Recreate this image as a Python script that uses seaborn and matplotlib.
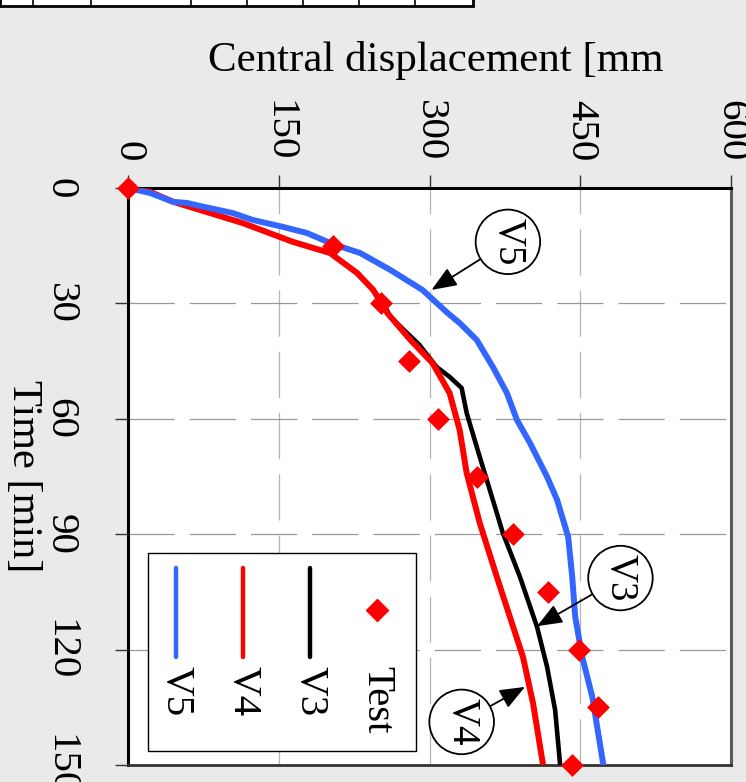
import matplotlib
matplotlib.use('Agg')
import matplotlib.pyplot as plt
import seaborn as sns
from matplotlib.patches import Rectangle
from matplotlib.lines import Line2D

# test results
test_time = [0, 15, 30, 45, 60, 75, 90, 105, 120, 135, 150]
test_disp = [0, 204, 252, 280, 308, 347, 383, 418, 449, 468, 442]

# simulations V5 / V4 / V3 (time [min], central displacement [mm])
v5_time = [0, 1.3, 3.6, 3.9, 4.7, 6.5, 8.3, 10.1, 11.7, 14.6, 16.9, 21.3, 26.5, 32.5, 35.1,
           39.5, 46.5, 53.3, 60.3, 66.3, 75.1, 81.1, 90.7, 101.1, 111.5, 121.9, 132.3, 150]
v5_disp = [0, 22, 45, 59, 72, 104, 124, 154, 178, 204, 231, 261, 293, 318, 330,
           347, 363, 377, 387, 400, 417, 427, 438, 442, 445, 452, 462, 473]

v4_time = [0, 1.0, 3.6, 4.7, 9.1, 14.0, 16.9, 22.1, 26.5, 32.5, 39.5, 45.5, 53.3, 62.9,
           74.1, 87.1, 101.1, 111.5, 121.9, 133.9, 150]
v4_disp = [0, 22, 45, 59, 114, 164, 201, 228, 244, 258, 281, 303, 320, 330,
           337, 350, 367, 380, 393, 403, 413]

v3_time = [0, 1.0, 3.6, 4.7, 9.1, 14.0, 16.9, 22.1, 26.5, 29.9, 33.5, 40.8, 46.5, 49.1,
           52.0, 58.5, 67.3, 78.5, 89.7, 101.1, 114.1, 124.5, 135.7, 150]
v3_disp = [0, 22, 45, 59, 114, 164, 201, 228, 244, 254, 261, 290, 307, 320,
           332, 337, 347, 360, 373, 390, 407, 417, 425, 430]

disp_ticks = [0, 150, 300, 450, 600]
time_ticks = [0, 30, 60, 90, 120, 150]

BLUE = '#3366ff'
RED = '#ff0000'
BG = '#eaeaea'

sns.set_style('white')
plt.rcParams['font.family'] = ['Liberation Serif', 'DejaVu Serif']
plt.rcParams['text.color'] = 'black'
plt.rcParams['xtick.color'] = 'black'
plt.rcParams['ytick.color'] = 'black'

fig = plt.figure(figsize=(7.46, 7.82), dpi=100, facecolor=BG)
ax = fig.add_axes([128 / 746, 1 - 765 / 782, 603 / 746, 577 / 782])
ax.set_facecolor('white')

# chart is shown turned a quarter turn: displacement across, time downwards
sns.lineplot(x=v3_disp, y=v3_time, orient='y', estimator=None, color='black',
             lw=3.3, ax=ax, zorder=3)
sns.lineplot(x=v4_disp, y=v4_time, orient='y', estimator=None, color=RED,
             lw=4.3, ax=ax, zorder=4)
sns.lineplot(x=v5_disp, y=v5_time, orient='y', estimator=None, color=BLUE,
             lw=4.3, ax=ax, zorder=5)
sns.scatterplot(x=test_disp, y=test_time, marker='D', s=135, color=RED,
                linewidth=0, ax=ax, zorder=6, clip_on=False)

ax.set_xlim(0, 600)
ax.set_ylim(150, 0)
ax.set_xticks(disp_ticks)
ax.set_yticks(time_ticks)
ax.set_xlabel('')
ax.set_ylabel('')

ax.xaxis.grid(True, color='#b5b5b5', lw=0.9, ls=(0, (37, 12)))
ax.yaxis.grid(True, color='#999999', lw=0.9, ls=(0, (37, 12)))
ax.set_axisbelow(True)

ax.xaxis.tick_top()
ax.tick_params(axis='x', top=True, bottom=False, labeltop=True, labelbottom=False,
               direction='out', length=9.5, width=1, color='#333333',
               labelrotation=-90, labelsize=29.5, labelcolor='black', pad=10)
ax.tick_params(axis='y', left=True, direction='out', length=9.5, width=1,
               color='#333333', labelrotation=-90, labelsize=29.5,
               labelcolor='black', pad=26)
for lab in ax.get_yticklabels():
    lab.set_va('center')

for side in ['top', 'left']:
    ax.spines[side].set_color('black')
    ax.spines[side].set_linewidth(2.2)
ax.spines['right'].set_color('#5a5a5a')
ax.spines['right'].set_linewidth(2.2)
ax.spines['bottom'].set_color('#333333')
ax.spines['bottom'].set_linewidth(2.0)

# call-outs
arrow = dict(arrowstyle='-|>,head_length=0.55,head_width=0.22', color='black',
             lw=1.3, shrinkA=0, shrinkB=0)
circle = dict(boxstyle='circle,pad=0.22', fc='white', ec='black', lw=1.3)
for name, tip, centre in [('V5', (302, 26.5), (378, 14.0)),
                          ('V3', (407, 113.9), (490, 101.4)),
                          ('V4', (395, 129.7), (332, 138.8))]:
    ax.annotate(name, xy=tip, xytext=centre, rotation=-90, fontsize=28,
                ha='center', va='center', bbox=circle, arrowprops=arrow, zorder=8)

# legend, drawn turned like the chart
ax.add_patch(Rectangle((0.033, 0.024), 0.445, 0.343, transform=ax.transAxes,
                       fc='white', ec='black', lw=1.0, zorder=9))
entries = [('V5', BLUE, 0.0796), ('V4', RED, 0.1907), ('V3', 'black', 0.3018)]
for name, col, xp in entries:
    ax.add_line(Line2D([xp, xp], [0.341, 0.187], transform=ax.transAxes,
                       color=col, lw=3.2, solid_capstyle='round', zorder=10))
    ax.text(xp, 0.172, name, transform=ax.transAxes, rotation=-90, fontsize=29.5,
            ha='center', va='top', zorder=10)
ax.add_line(Line2D([0.413], [0.269], transform=ax.transAxes, marker='D', ms=11,
                   color=RED, lw=0, zorder=10))
ax.text(0.413, 0.172, 'Test', transform=ax.transAxes, rotation=-90, fontsize=29.5,
        ha='center', va='top', zorder=10)

# axis titles (the displacement one is cut at the page edge in the source)
fig.text(208 / 746, 1 - 60 / 782, 'Central displacement [mm', fontsize=31,
         ha='left', va='center')
fig.text(23 / 746, 1 - 476 / 782, 'Time [min]', fontsize=30.5, rotation=-90,
         ha='center', va='center')

# bit of the neighbouring table at the top edge
fig.add_artist(Rectangle((0, 1 - 6 / 782), 473 / 746, 8 / 782, transform=fig.transFigure,
                         fc='white', ec='black', lw=2))
for xp in [33, 91, 191, 247, 303, 359, 415]:
    fig.add_artist(Line2D([xp / 746, xp / 746], [1 - 6 / 782, 1], transform=fig.transFigure,
                          color='black', lw=1.2))

fig.savefig('out.png', dpi=100, facecolor=BG)
